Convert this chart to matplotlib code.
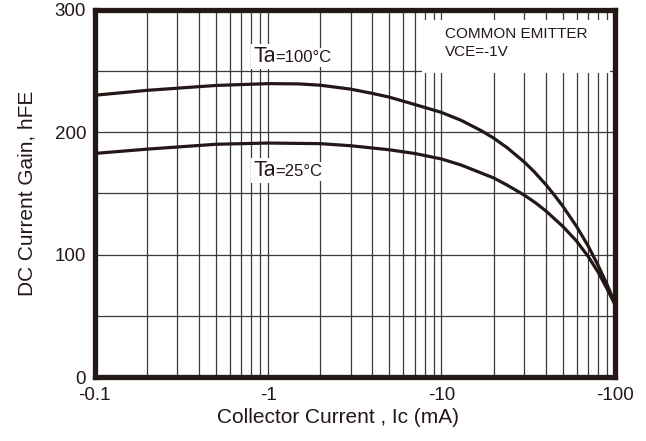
import matplotlib

matplotlib.use("Agg")
import matplotlib.pyplot as plt
from matplotlib.patches import Rectangle
from matplotlib.ticker import FixedLocator, NullFormatter

plt.rcParams["font.family"] = ["Liberation Sans", "DejaVu Sans"]

INK = "#231815"

# collector current (mA, magnitude) and hFE
ic_100c = [0.1, 0.2, 0.5, 1, 1.5, 2, 3, 4, 5, 7, 10, 13, 17, 20, 24, 30, 34, 40,
           45, 50, 60, 70, 80, 90, 100]
hfe_100c = [230, 234, 238, 239.5, 239.3, 238.2, 235, 231.5, 228.5, 222.5, 216, 209.5,
            201, 195, 187, 175.5, 168, 157, 148, 139.5, 123, 107, 91, 75.5, 60]
ic_25c = [0.1, 0.2, 0.5, 1, 2, 3, 5, 7, 10, 13, 20, 24, 30, 35, 40, 50, 60, 70,
          80, 90, 100]
hfe_25c = [182.5, 186, 190, 191, 190.5, 188.8, 185.5, 182.5, 178, 173, 162.5,
           156.5, 148.5, 142, 135.5, 123, 111, 98.5, 85.5, 72, 59]

x_ticks = [0.1, 1, 10, 100]
x_tick_labels = ["-0.1", "-1", "-10", "-100"]
y_ticks = [0, 100, 200, 300]
y_minor = [50, 150, 250]

fig = plt.figure(figsize=(6.46, 4.41), dpi=100)
ax = fig.add_axes([0.1463, 0.1451, 0.8057, 0.8333])

ax.set_xscale("log")
ax.set_xlim(0.1, 100)
ax.set_ylim(0, 300)

ax.set_xticks(x_ticks)
ax.set_xticklabels(x_tick_labels)
ax.xaxis.set_minor_locator(FixedLocator([m * d for d in (0.1, 1, 10) for m in range(2, 10)]))
ax.xaxis.set_minor_formatter(NullFormatter())
ax.set_yticks(y_ticks)
ax.yaxis.set_minor_locator(FixedLocator(y_minor))

ax.tick_params(which="both", length=0, colors=INK, labelsize=13.5)
ax.tick_params(axis="x", pad=7)
ax.tick_params(axis="y", pad=6)
ax.grid(True, which="both", color="#3a3a3a", lw=0.9)
ax.set_axisbelow(True)

for sp in ax.spines.values():
    sp.set_linewidth(3.8)
    sp.set_color(INK)
    sp.set_zorder(5)

ax.plot(ic_100c, hfe_100c, color=INK, lw=2.3, zorder=3)
ax.plot(ic_25c, hfe_25c, color=INK, lw=2.3, zorder=3)

# white patch behind the test condition note
ax.add_patch(Rectangle((0.629, 0.827), 0.361, 0.144, transform=ax.transAxes,
                       facecolor="white", edgecolor="none", zorder=2))
ax.text(0.674, 0.909, "COMMON EMITTER\nVCE=-1V", transform=ax.transAxes,
        fontsize=11, color=INK, ha="left", va="center", linespacing=1.35, zorder=4)

# "Ta" drawn larger than the rest of the label, as in the datasheet
renderer = fig.canvas.get_renderer()
box = dict(facecolor="white", edgecolor="none", pad=1.5)
for temp, y in [("=100°C", 257.4), ("=25°C", 164)]:
    ta = ax.text(0.82, y, "Ta", fontsize=15.5, color=INK, ha="left",
                 va="baseline", bbox=box, zorder=4)
    x_right = ta.get_window_extent(renderer).x1
    x_data = ax.transData.inverted().transform((x_right, 0))[0]
    ax.text(x_data, y, temp, fontsize=12, color=INK, ha="left",
            va="baseline", bbox=box, zorder=4)

ax.set_xlabel("Collector Current , Ic (mA)", fontsize=15, color=INK)
ax.xaxis.set_label_coords(0.467, -0.083)
ax.set_ylabel("DC Current Gain, hFE", fontsize=15, color=INK)
ax.yaxis.set_label_coords(-0.112, 0.5)

fig.savefig("out.png", dpi=100)
